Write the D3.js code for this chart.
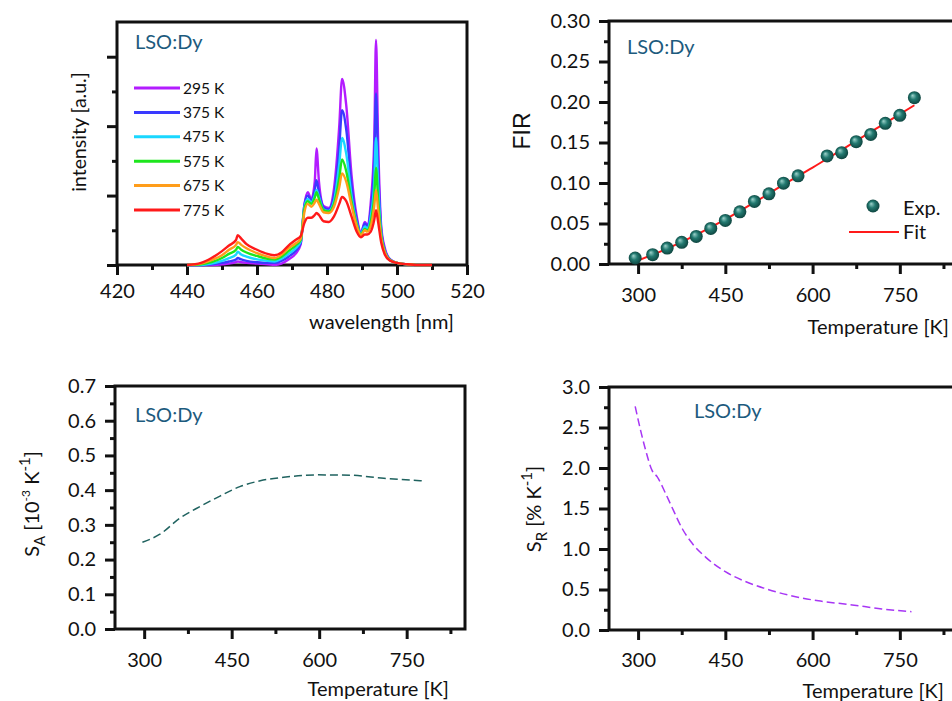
<!DOCTYPE html>
<html>
<head>
<meta charset="utf-8">
<script src="https://cdn.jsdelivr.net/npm/d3@7"></script>
<style>
  body { margin: 0; background: #fff; }
  svg { font-family: Lato, "Open Sans", sans-serif; }
</style>
</head>
<body>
<svg id="chart" width="952" height="701"></svg>
<script>
// spectra (a.u.), one series per temperature
let wavelengths = [440, 444, 447, 450, 452, 454, 454.5, 455.5, 457, 460, 463, 465, 467, 469, 471, 472.5, 473.5, 474.5, 475.5, 476.5, 477, 477.7, 479, 480.5, 482, 483.5, 484.3, 485.5, 487, 488.5, 489.7, 490.8, 491.5, 492.5, 493.5, 494, 494.6, 495.5, 496.5, 498, 500, 503, 506, 510];
let spec295 = [0, 0, 0, 0.01, 0.02, 0.04, 0.05, 0.04, 0.03, 0.02, 0.01, 0, 0.02, 0.08, 0.16, 0.3, 0.85, 1.05, 0.95, 1.2, 1.68, 1.2, 0.85, 0.82, 1.1, 2.0, 2.68, 2.3, 1.3, 0.7, 0.46, 0.62, 0.58, 0.9, 1.8, 3.24, 1.8, 0.55, 0.25, 0.08, 0.03, 0.01, 0, 0];
let spec375 = [0, 0, 0.01, 0.03, 0.05, 0.08, 0.1, 0.08, 0.06, 0.04, 0.03, 0.03, 0.06, 0.12, 0.2, 0.32, 0.85, 1.0, 0.93, 1.08, 1.22, 1.05, 0.83, 0.8, 1.0, 1.7, 2.23, 1.95, 1.15, 0.65, 0.46, 0.6, 0.56, 0.8, 1.5, 2.47, 1.45, 0.5, 0.22, 0.08, 0.03, 0.01, 0, 0];
let spec475 = [0, 0, 0.02, 0.06, 0.1, 0.15, 0.19, 0.15, 0.12, 0.08, 0.06, 0.05, 0.09, 0.16, 0.24, 0.34, 0.82, 0.95, 0.9, 1.0, 1.08, 0.98, 0.8, 0.78, 0.92, 1.45, 1.83, 1.6, 1.0, 0.6, 0.45, 0.55, 0.53, 0.7, 1.2, 1.83, 1.15, 0.45, 0.2, 0.07, 0.03, 0.01, 0, 0];
let spec575 = [0, 0.01, 0.04, 0.1, 0.16, 0.22, 0.26, 0.22, 0.18, 0.13, 0.09, 0.08, 0.12, 0.2, 0.28, 0.36, 0.8, 0.92, 0.88, 0.97, 1.05, 0.95, 0.79, 0.77, 0.88, 1.25, 1.52, 1.35, 0.92, 0.58, 0.44, 0.52, 0.5, 0.62, 1.0, 1.4, 0.95, 0.42, 0.19, 0.07, 0.03, 0.01, 0, 0];
let spec675 = [0, 0.02, 0.07, 0.14, 0.22, 0.29, 0.33, 0.29, 0.24, 0.17, 0.12, 0.1, 0.15, 0.24, 0.31, 0.38, 0.75, 0.88, 0.84, 0.9, 0.94, 0.88, 0.76, 0.75, 0.84, 1.12, 1.32, 1.2, 0.86, 0.56, 0.43, 0.5, 0.48, 0.56, 0.85, 1.08, 0.8, 0.38, 0.18, 0.07, 0.03, 0.01, 0, 0];
let spec775 = [0, 0.03, 0.1, 0.2, 0.28, 0.36, 0.43, 0.38, 0.3, 0.22, 0.16, 0.14, 0.18, 0.28, 0.36, 0.42, 0.6, 0.68, 0.68, 0.72, 0.75, 0.72, 0.63, 0.62, 0.7, 0.88, 0.98, 0.92, 0.7, 0.48, 0.4, 0.44, 0.44, 0.48, 0.65, 0.79, 0.62, 0.32, 0.15, 0.06, 0.03, 0.01, 0, 0];
let specLabels = ["295 K", "375 K", "475 K", "575 K", "675 K", "775 K"];
let specColors = ["#b31cff", "#3a3aff", "#1ad7ff", "#1de61d", "#ff9d1a", "#ff1a1a"];

// FIR experiment and fit
let firT = [295, 325, 350, 375, 400, 425, 450, 475, 500, 525, 550, 575, 625, 650, 675, 700, 725, 750, 775];
let firExp = [0.0074, 0.0115, 0.0197, 0.0267, 0.034, 0.0439, 0.0538, 0.0644, 0.0772, 0.0866, 0.0998, 0.1088, 0.1334, 0.1375, 0.151, 0.160, 0.1737, 0.1835, 0.2053];
let fitT = [295, 350, 400, 450, 500, 550, 600, 650, 700, 750, 775];
let fitVal = [0.003, 0.019, 0.036, 0.055, 0.076, 0.098, 0.119, 0.141, 0.163, 0.185, 0.196];

// absolute sensitivity
let saT = [297, 327, 361, 396, 430, 464, 499, 539, 596, 653, 711, 776];
let saVal = [0.25, 0.273, 0.319, 0.353, 0.383, 0.41, 0.427, 0.437, 0.444, 0.443, 0.434, 0.427];

// relative sensitivity
let srT = [295, 313, 324, 333, 347, 358, 376, 393, 416, 450, 484, 519, 565, 610, 668, 719, 770];
let srVal = [2.76, 2.22, 1.97, 1.89, 1.69, 1.52, 1.25, 1.07, 0.9, 0.72, 0.6, 0.51, 0.42, 0.36, 0.31, 0.26, 0.226];

let tempTicks = [300, 450, 600, 750];
let tempMinor = [375, 525, 675, 825];

const svg = d3.select("#chart");
const dark = "#111";
const titleColor = "#1d5b7e";
const fs = 20;

const defs = svg.append("defs");
const grad = defs.append("radialGradient").attr("id", "ball")
  .attr("cx", "50%").attr("cy", "50%").attr("r", "55%").attr("fx", "35%").attr("fy", "32%");
grad.append("stop").attr("offset", "0%").attr("stop-color", "#9fd3cc");
grad.append("stop").attr("offset", "45%").attr("stop-color", "#237a71");
grad.append("stop").attr("offset", "100%").attr("stop-color", "#0b3d38");

// draws box, ticks and tick labels for a panel
function frame(x, y, o) {
  const g = svg.append("g");
  const [x0, x1] = x.range(), [y0, y1] = y.range();

  g.append("g").attr("transform", `translate(0,${y0})`)
    .call(d3.axisBottom(x).tickValues(o.xMinor).tickSize(5).tickFormat(""));
  const majX = g.append("g").attr("transform", `translate(0,${y0})`)
    .call(d3.axisBottom(x).tickValues(o.xMajor).tickSize(10));
  majX.selectAll("text").attr("y", o.xLabOff).attr("dy", null);

  g.append("g").attr("transform", `translate(${x0},0)`)
    .call(d3.axisLeft(y).tickValues(o.yMinor).tickSize(5).tickFormat(""));
  const majY = g.append("g").attr("transform", `translate(${x0},0)`)
    .call(d3.axisLeft(y).tickValues(o.yMajor).tickSize(10).tickFormat(o.yFmt || ""));
  majY.selectAll("text").attr("x", -19);

  g.selectAll(".domain").remove();
  g.selectAll(".tick line").attr("stroke", dark).attr("stroke-width", 3);
  g.selectAll(".tick text").attr("fill", dark).attr("font-size", fs)
    .attr("font-family", "Lato, sans-serif");

  g.append("rect").attr("x", x0).attr("y", y1)
    .attr("width", x1 - x0).attr("height", y0 - y1)
    .attr("fill", "none").attr("stroke", dark).attr("stroke-width", 3);
  return g;
}

function title(x, y) {
  svg.append("text").attr("x", x).attr("y", y).text("LSO:Dy")
    .attr("fill", titleColor).attr("font-size", fs);
}

function xTitle(txt, x, y) {
  svg.append("text").attr("x", x).attr("y", y).attr("text-anchor", "end")
    .attr("font-size", fs).attr("fill", dark).text(txt);
}

// ---- panel 1: spectra
const x1 = d3.scaleLinear().domain([420, 520]).range([117, 467]);
const y1 = d3.scaleLinear().domain([0, 3.5]).range([265, 22]);
frame(x1, y1, {
  xMajor: d3.range(420, 521, 20), xMinor: d3.range(430, 520, 20), xLabOff: 33,
  yMajor: [0, 1, 2, 3], yMinor: [0.5, 1.5, 2.5]
});
const specs = [spec295, spec375, spec475, spec575, spec675, spec775];
const line1 = d3.line().x(d => x1(d[0])).y(d => y1(d[1])).curve(d3.curveMonotoneX);
svg.append("g").selectAll("path")
  .data(specs)
  .join("path")
    .attr("d", s => line1(wavelengths.map((w, i) => [w, s[i]])))
    .attr("fill", "none")
    .attr("stroke", (d, i) => specColors[i])
    .attr("stroke-width", 2.4)
    .attr("stroke-linejoin", "round");

const leg1 = svg.append("g").selectAll("g")
  .data(specLabels)
  .join("g")
    .attr("transform", (d, i) => `translate(134,${88 + i * 24.4})`);
leg1.append("line").attr("x1", 0).attr("x2", 46)
  .attr("stroke", (d, i) => specColors[i]).attr("stroke-width", 3);
leg1.append("text").attr("x", 49).attr("dy", "0.36em").attr("font-size", 15.5)
  .attr("fill", dark).text(d => d);

title(135, 49);
xTitle("wavelength [nm]", 454, 329);
svg.append("text").attr("transform", "translate(86,132) rotate(-90)")
  .attr("text-anchor", "middle").attr("font-size", 19.5).attr("fill", dark)
  .text("intensity [a.u.]");

// ---- panel 2: FIR
const x2 = d3.scaleLinear().domain([250, 850]).range([609, 958]);
const y2 = d3.scaleLinear().domain([0, 0.3]).range([264, 21]);
frame(x2, y2, {
  xMajor: tempTicks, xMinor: tempMinor, xLabOff: 38,
  yMajor: d3.range(0, 0.301, 0.05), yMinor: d3.range(0.025, 0.3, 0.05),
  yFmt: d3.format(".2f")
});
svg.append("path")
  .datum(fitT.map((t, i) => [t, fitVal[i]]))
  .attr("d", d3.line().x(d => x2(d[0])).y(d => y2(d[1])).curve(d3.curveMonotoneX))
  .attr("fill", "none").attr("stroke", "#ff1a1a").attr("stroke-width", 2);
svg.append("g").selectAll("circle")
  .data(firT.map((t, i) => [t, firExp[i]]))
  .join("circle")
    .attr("cx", d => x2(d[0])).attr("cy", d => y2(d[1]))
    .attr("r", 6.5).attr("fill", "url(#ball)");
svg.append("circle").attr("cx", 873).attr("cy", 206).attr("r", 6.5).attr("fill", "url(#ball)");
svg.append("text").attr("x", 903).attr("y", 215).attr("font-size", fs).attr("fill", dark).text("Exp.");
svg.append("line").attr("x1", 849).attr("x2", 899).attr("y1", 232).attr("y2", 232)
  .attr("stroke", "#ff1a1a").attr("stroke-width", 2);
svg.append("text").attr("x", 903).attr("y", 239).attr("font-size", fs).attr("fill", dark).text("Fit");
title(627, 54);
xTitle("Temperature [K]", 949, 334);
svg.append("text").attr("transform", "translate(530,131) rotate(-90)")
  .attr("text-anchor", "middle").attr("font-size", 23)
  .attr("font-family", "'Liberation Sans', Arial, sans-serif").attr("fill", dark).text("FIR");

// ---- panel 3: S_A
const x3 = d3.scaleLinear().domain([250, 850]).range([115, 465]);
const y3 = d3.scaleLinear().domain([0, 0.7]).range([629, 386]);
frame(x3, y3, {
  xMajor: tempTicks, xMinor: tempMinor, xLabOff: 38,
  yMajor: d3.range(0, 0.701, 0.1), yMinor: d3.range(0.05, 0.7, 0.1),
  yFmt: d3.format(".1f")
});
svg.append("path")
  .datum(saT.map((t, i) => [t, saVal[i]]))
  .attr("d", d3.line().x(d => x3(d[0])).y(d => y3(d[1])).curve(d3.curveMonotoneX))
  .attr("fill", "none").attr("stroke", "#1f625f").attr("stroke-width", 1.5)
  .attr("stroke-dasharray", "8,4");
title(135, 422);
xTitle("Temperature [K]", 449, 696);
const la = svg.append("text").attr("transform", "translate(39,504) rotate(-90)")
  .attr("text-anchor", "middle").attr("font-size", 20).attr("fill", dark);
la.append("tspan").text("S");
la.append("tspan").attr("font-size", 15).attr("dy", 6).text("A");
la.append("tspan").attr("dy", -6).text(" [10");
la.append("tspan").attr("font-size", 12).attr("dy", -9).text("-3");
la.append("tspan").attr("dy", 9).text(" K");
la.append("tspan").attr("font-size", 15).attr("dy", -9).text("-1");
la.append("tspan").attr("dy", 9).text("]");

// ---- panel 4: S_R
const x4 = d3.scaleLinear().domain([250, 850]).range([609, 958]);
const y4 = d3.scaleLinear().domain([0, 3]).range([630, 387]);
frame(x4, y4, {
  xMajor: tempTicks, xMinor: tempMinor, xLabOff: 37,
  yMajor: d3.range(0, 3.01, 0.5), yMinor: d3.range(0.25, 3, 0.5),
  yFmt: d3.format(".1f")
});
svg.append("path")
  .datum(srT.map((t, i) => [t, srVal[i]]))
  .attr("d", d3.line().x(d => x4(d[0])).y(d => y4(d[1])).curve(d3.curveMonotoneX))
  .attr("fill", "none").attr("stroke", "#a736f5").attr("stroke-width", 1.5)
  .attr("stroke-dasharray", "8,4");
title(694, 418);
xTitle("Temperature [K]", 944, 698);
const lr = svg.append("text").attr("transform", "translate(541,509) rotate(-90)")
  .attr("text-anchor", "middle").attr("font-size", 20).attr("fill", dark);
lr.append("tspan").text("S");
lr.append("tspan").attr("font-size", 15).attr("dy", 6).text("R");
lr.append("tspan").attr("dy", -6).text(" [% K");
lr.append("tspan").attr("font-size", 15).attr("dy", -9).text("-1");
lr.append("tspan").attr("dy", 9).text("]");
</script>
</body>
</html>
